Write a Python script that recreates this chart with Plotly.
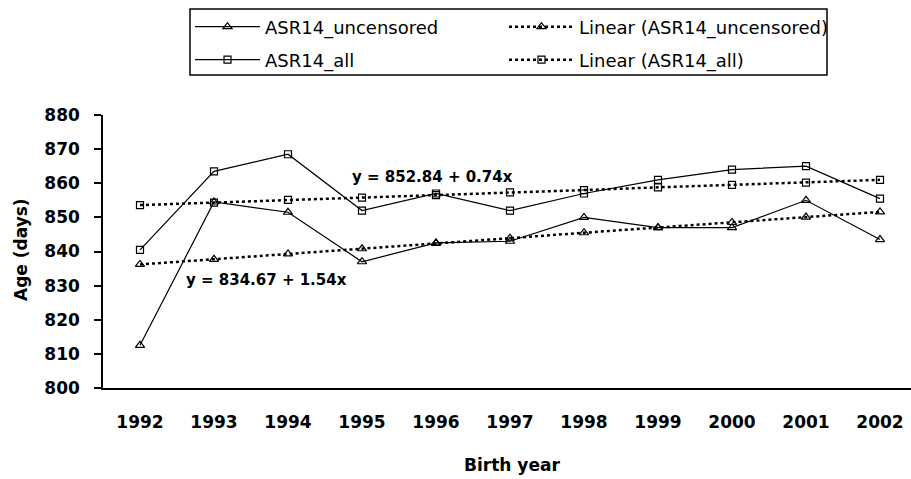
import plotly.graph_objects as go

years = [1992, 1993, 1994, 1995, 1996, 1997, 1998, 1999, 2000, 2001, 2002]
asr14_uncensored = [812.5, 854.5, 851.5, 837.0, 842.5, 843.0, 850.0, 847.0, 847.0, 855.0, 843.5]
asr14_all = [840.5, 863.5, 868.5, 852.0, 857.0, 852.0, 857.0, 861.0, 864.0, 865.0, 855.5]
linear_uncensored = [836.2, 837.7, 839.3, 840.8, 842.4, 843.9, 845.5, 847.0, 848.5, 850.1, 851.6]
linear_all = [853.6, 854.3, 855.1, 855.8, 856.5, 857.3, 858.0, 858.8, 859.5, 860.2, 861.0]
y_ticks = [800, 810, 820, 830, 840, 850, 860, 870, 880]
eq_all = "y = 852.84 + 0.74x"
eq_uncensored = "y = 834.67 + 1.54x"

W, H = 911, 479
L, R, T, B = 103, 0, 115, 91
plot_w = W - L - R
plot_h = H - T - B


def px(x):
    return (x - L) / plot_w


def py(y):
    return (H - B - y) / plot_h


fig = go.Figure()
fig.add_trace(go.Scatter(x=years, y=asr14_uncensored, name="ASR14_uncensored", mode="lines+markers",
                         legend="legend",
                         line=dict(color="black", width=1.2),
                         marker=dict(symbol="triangle-up-open", size=8, color="black", line=dict(width=1.2))))
fig.add_trace(go.Scatter(x=years, y=linear_uncensored, name="Linear (ASR14_uncensored)", mode="lines+markers",
                         legend="legend", legendwidth=270,
                         line=dict(color="black", width=2.5, dash="dot"),
                         marker=dict(symbol="triangle-up-open", size=8, color="black", line=dict(width=1.2))))
fig.add_trace(go.Scatter(x=years, y=asr14_all, name="ASR14_all", mode="lines+markers",
                         legend="legend2",
                         line=dict(color="black", width=1.2),
                         marker=dict(symbol="square-open", size=7, color="black", line=dict(width=1.2))))
fig.add_trace(go.Scatter(x=years, y=linear_all, name="Linear (ASR14_all)", mode="lines+markers",
                         legend="legend2", legendwidth=270,
                         line=dict(color="black", width=2.5, dash="dot"),
                         marker=dict(symbol="square-open", size=7, color="black", line=dict(width=1.2))))

legend_common = dict(orientation="h", x=px(190), xanchor="left", yanchor="middle",
                     borderwidth=0, bgcolor="rgba(0,0,0,0)",
                     entrywidth=234, entrywidthmode="pixels", itemwidth=65,
                     font=dict(family="DejaVu Sans", size=18, color="black"))

fig.update_layout(
    width=W, height=H,
    margin=dict(l=L, r=R, t=T, b=B, pad=0),
    paper_bgcolor="white", plot_bgcolor="white",
    font=dict(family="DejaVu Sans", color="black", size=17),
    showlegend=True,
    legend=dict(legend_common, y=py(27)),
    legend2=dict(legend_common, y=py(60)),
    xaxis=dict(range=[1991.5, 1991.5 + plot_w / 74.0], tickvals=years,
               ticktext=[str(y) for y in years], showgrid=False, zeroline=False,
               showline=True, linecolor="black", linewidth=1.5,
               ticks="outside", ticklen=18, tickcolor="rgba(0,0,0,0)",
               tickfont=dict(family="DejaVu Sans", size=17, color="black", weight="bold")),
    yaxis=dict(range=[800, 880], tickvals=y_ticks, showgrid=False, zeroline=False,
               showline=True, linecolor="black", linewidth=1.5,
               ticks="outside", ticklen=7, tickwidth=1.5, tickcolor="black",
               ticklabelstandoff=11,
               tickfont=dict(family="DejaVu Sans", size=17, color="black", weight="bold")),
    shapes=[
        dict(type="rect", xref="paper", yref="paper", x0=px(190), x1=px(827), y0=py(75), y1=py(9),
             line=dict(color="black", width=1.5), fillcolor="rgba(0,0,0,0)", layer="above"),
    ],
    annotations=[
        dict(x=1994.84, y=861.8, xref="x", yref="y", text=eq_all, showarrow=False,
             xanchor="left", yanchor="middle",
             font=dict(family="DejaVu Sans", size=15, color="black", weight="bold")),
        dict(x=1992.6, y=831.6, xref="x", yref="y", text=eq_uncensored, showarrow=False,
             xanchor="left", yanchor="middle",
             font=dict(family="DejaVu Sans", size=15, color="black", weight="bold")),
        dict(x=px(512), y=py(465), xref="paper", yref="paper",
             text="Birth year", showarrow=False, xanchor="center", yanchor="middle",
             font=dict(family="DejaVu Sans", size=17, color="black", weight="bold")),
        dict(x=px(21), y=py(250), xref="paper", yref="paper",
             text="Age (days)", showarrow=False, xanchor="center", yanchor="middle", textangle=-90,
             font=dict(family="DejaVu Sans", size=17, color="black", weight="bold")),
    ],
)

fig.write_html("out.html")
